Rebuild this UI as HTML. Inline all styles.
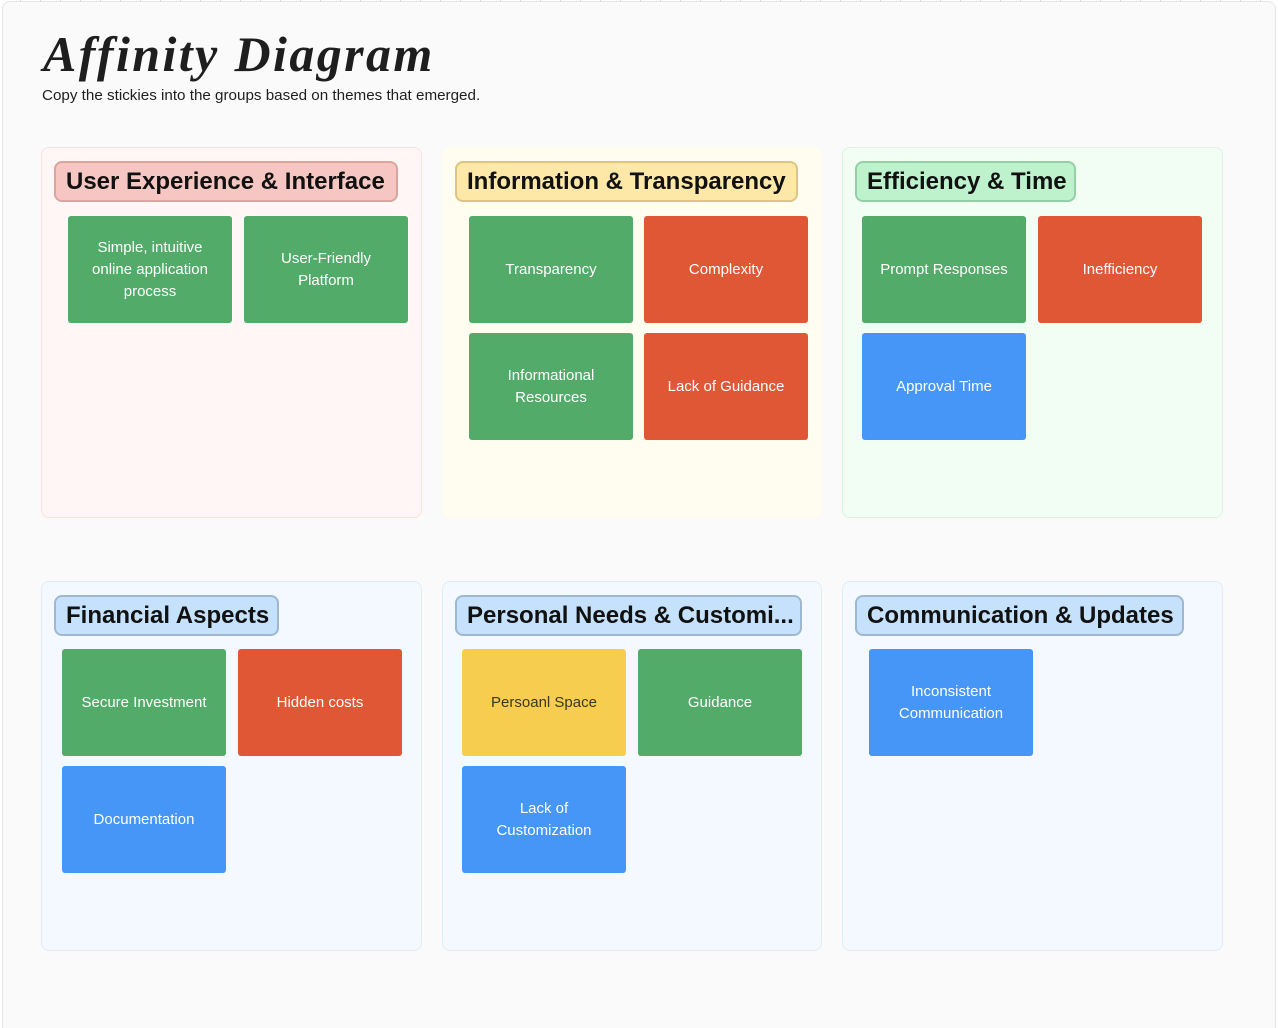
<!DOCTYPE html>
<html>
<head>
<meta charset="utf-8">
<style>
  html, body { margin:0; padding:0; width:1278px; height:1028px; overflow:hidden; }
  body { background:#ffffff; position:relative; font-family:"Liberation Sans", sans-serif; }
  .frame { position:absolute; left:2px; top:1px; width:1274px; height:1027px; background:#fafafa; border:1px solid #e6e6e6; border-bottom:none; border-radius:8px 8px 0 0; box-sizing:border-box; }
  .ticks { position:absolute; left:2px; top:0; width:1270px; height:2px; background:repeating-linear-gradient(90deg, transparent 0 18px, #d8d8d8 18px 19px, transparent 19px 20px); }
  .title { position:absolute; left:43px; top:25px; font-family:"Liberation Serif", serif; font-style:italic; font-weight:bold; font-size:50px; color:#1e1e1e; letter-spacing:2.4px; white-space:nowrap; }
  .sub { position:absolute; left:42px; top:87px; font-size:15.2px; color:#1e1e1e; white-space:nowrap; }
  .group { position:absolute; box-sizing:border-box; border-radius:8px; border:1px solid; }
  .hdr { position:absolute; box-sizing:border-box; height:41px; border-radius:8px; border:2px solid; font-size:24px; font-weight:bold; line-height:37px; color:#111; padding-left:10px; white-space:nowrap; overflow:hidden; }
  .s { position:absolute; width:164px; height:107px; border-radius:3px; display:flex; align-items:center; justify-content:center; text-align:center; color:#fff; font-size:15px; line-height:22px; box-sizing:border-box; padding:0 12px; }
  .g { background:#52ab68; }
  .r { background:#df5735; }
  .b { background:#4596f7; }
  .y { background:#f7cd50; color:#3a3a1a; }
</style>
</head>
<body>
<div class="frame"></div>
<div class="ticks"></div>
<div class="title">Affinity Diagram</div>
<div class="sub">Copy the stickies into the groups based on themes that emerged.</div>

<!-- Group 1 -->
<div class="group" style="left:41px;top:147px;width:381px;height:371px;background:#fff6f5;border-color:#fbe1df;"></div>
<div class="hdr" style="left:54px;top:161px;width:344px;background:#f6c7c2;border-color:#d9a5a0;">User Experience &amp; Interface</div>
<div class="s g" style="left:68px;top:216px;">Simple, intuitive online application process</div>
<div class="s g" style="left:244px;top:216px;">User-Friendly Platform</div>

<!-- Group 2 -->
<div class="group" style="left:442px;top:147px;width:380px;height:371px;background:#fffdf0;border-color:#fdfbeb;"></div>
<div class="hdr" style="left:455px;top:161px;width:343px;background:#fde8a8;border-color:#dcc584;">Information &amp; Transparency</div>
<div class="s g" style="left:469px;top:216px;">Transparency</div>
<div class="s r" style="left:644px;top:216px;">Complexity</div>
<div class="s g" style="left:469px;top:333px;">Informational Resources</div>
<div class="s r" style="left:644px;top:333px;">Lack of Guidance</div>

<!-- Group 3 -->
<div class="group" style="left:842px;top:147px;width:381px;height:371px;background:#f2fdf4;border-color:#d9f5df;"></div>
<div class="hdr" style="left:855px;top:161px;width:221px;background:#bdf2cd;border-color:#95cfa6;">Efficiency &amp; Time</div>
<div class="s g" style="left:862px;top:216px;">Prompt Responses</div>
<div class="s r" style="left:1038px;top:216px;">Inefficiency</div>
<div class="s b" style="left:862px;top:333px;">Approval Time</div>

<!-- Group 4 -->
<div class="group" style="left:41px;top:581px;width:381px;height:370px;background:#f4f9ff;border-color:#ddecfc;"></div>
<div class="hdr" style="left:54px;top:595px;width:225px;background:#c5e1fb;border-color:#9fb8d0;">Financial Aspects</div>
<div class="s g" style="left:62px;top:649px;">Secure Investment</div>
<div class="s r" style="left:238px;top:649px;">Hidden costs</div>
<div class="s b" style="left:62px;top:766px;">Documentation</div>

<!-- Group 5 -->
<div class="group" style="left:442px;top:581px;width:380px;height:370px;background:#f4f9ff;border-color:#ddecfc;"></div>
<div class="hdr" style="left:455px;top:595px;width:347px;background:#c5e1fb;border-color:#9fb8d0;">Personal Needs &amp; Customi...</div>
<div class="s y" style="left:462px;top:649px;">Persoanl Space</div>
<div class="s g" style="left:638px;top:649px;">Guidance</div>
<div class="s b" style="left:462px;top:766px;">Lack of Customization</div>

<!-- Group 6 -->
<div class="group" style="left:842px;top:581px;width:381px;height:370px;background:#f4f9ff;border-color:#ddecfc;"></div>
<div class="hdr" style="left:855px;top:595px;width:329px;background:#c5e1fb;border-color:#9fb8d0;">Communication &amp; Updates</div>
<div class="s b" style="left:869px;top:649px;">Inconsistent Communication</div>
</body>
</html>
